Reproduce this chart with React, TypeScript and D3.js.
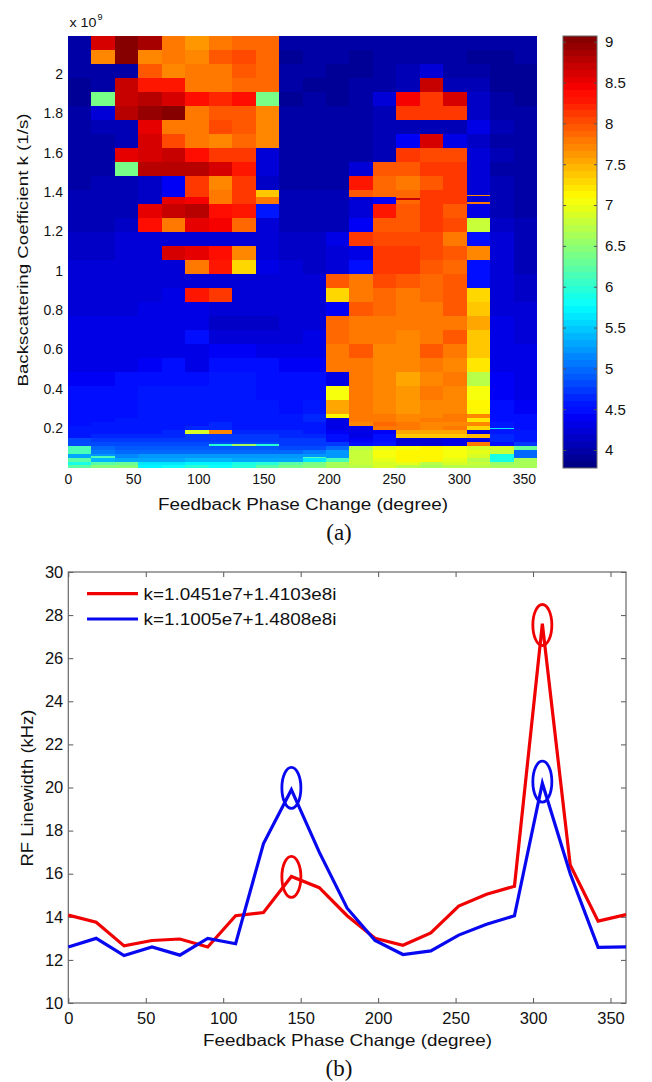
import * as d3 from "d3";
import { useEffect, useRef } from "react";

// heat map: 20 phase columns, values are log10 of the RF linewidth
const phaseEdges = d3.range(0, 361, 18);

// upper rows, top to bottom, each kRowStep tall (k in units of 1e9)
const kTop = 2.192;
const kRowStep = 0.07107;
const coarseGrid = [
  [3.95, 8.6, 9.0, 8.9, 7.78, 7.64, 7.82, 7.88, 7.88, 3.95, 4.0, 3.95, 3.95, 3.95, 3.95, 3.95, 3.95, 3.95, 3.95, 4.0],
  [3.95, 7.74, 9.0, 7.7, 7.82, 7.74, 7.93, 8.03, 7.88, 3.9, 3.95, 3.95, 3.9, 3.95, 3.95, 4.0, 3.95, 3.9, 3.9, 3.95],
  [3.95, 4.0, 4.0, 7.93, 7.7, 7.82, 7.82, 7.93, 7.88, 3.95, 3.95, 3.9, 3.9, 3.95, 4.05, 4.2, 4.0, 3.95, 3.9, 3.9],
  [3.9, 3.95, 8.7, 8.25, 8.3, 7.78, 7.82, 7.88, 7.88, 3.95, 3.9, 3.9, 3.95, 3.95, 4.1, 8.7, 4.1, 4.05, 3.9, 3.9],
  [3.9, 6.4, 8.7, 8.75, 8.6, 8.35, 8.18, 8.35, 6.4, 3.9, 3.95, 3.9, 3.95, 4.2, 8.45, 8.15, 8.6, 4.15, 3.95, 3.9],
  [3.95, 4.2, 8.75, 8.95, 9.0, 7.78, 7.93, 7.98, 7.74, 4.0, 3.95, 3.95, 3.95, 4.05, 8.08, 8.08, 8.15, 4.15, 4.0, 3.95],
  [4.0, 4.05, 4.05, 8.55, 7.78, 7.78, 8.03, 7.98, 7.7, 4.0, 4.0, 4.0, 3.95, 4.05, 4.1, 4.1, 4.1, 4.3, 4.05, 3.95],
  [4.0, 4.0, 4.05, 8.65, 8.03, 7.78, 7.74, 7.88, 7.7, 3.95, 3.95, 3.95, 3.95, 4.05, 4.4, 8.65, 4.3, 4.15, 4.0, 3.95],
  [4.0, 4.0, 8.55, 8.6, 8.7, 8.4, 8.15, 8.08, 4.2, 3.95, 3.95, 3.95, 4.0, 4.1, 8.12, 8.03, 8.03, 4.2, 4.05, 3.95],
  [4.0, 4.0, 6.4, 8.8, 8.75, 8.8, 8.65, 8.3, 4.2, 4.0, 4.0, 3.95, 4.2, 7.93, 7.98, 8.08, 8.12, 4.2, 4.0, 3.95],
  [4.0, 4.05, 4.1, 4.15, 4.4, 8.08, 7.7, 8.12, 4.15, 4.0, 4.0, 4.0, 8.3, 7.88, 7.82, 7.98, 8.08, 4.25, 4.05, 4.0],
  [4.05, 4.05, 4.1, 4.15, 8.5, 8.45, 7.82, 8.08, 7.78, 4.05, 4.1, 4.1, 4.2, 4.4, 7.88, 8.12, 8.08, 4.2, 4.05, 4.0],
  [4.05, 4.05, 4.05, 8.55, 8.7, 8.75, 8.35, 8.3, 4.6, 4.1, 4.05, 4.05, 4.2, 8.3, 7.93, 8.15, 7.98, 4.35, 4.05, 4.0],
  [4.1, 4.1, 4.15, 8.35, 7.78, 8.55, 8.45, 7.88, 4.2, 4.1, 4.1, 4.1, 4.4, 7.98, 7.98, 8.15, 8.03, 6.8, 4.15, 4.05],
  [4.15, 4.15, 4.2, 4.2, 4.2, 4.25, 4.2, 4.2, 4.2, 4.15, 4.15, 4.35, 8.08, 8.03, 8.03, 8.03, 7.82, 4.45, 4.2, 4.1],
  [4.15, 4.15, 4.2, 4.2, 8.6, 8.5, 8.35, 7.74, 4.2, 4.15, 4.15, 4.2, 4.3, 8.12, 8.08, 8.03, 7.93, 7.7, 4.2, 4.1],
  [4.2, 4.2, 4.2, 4.25, 4.25, 7.78, 8.3, 7.3, 4.3, 4.2, 4.15, 4.2, 4.45, 8.08, 8.08, 7.93, 7.88, 4.45, 4.2, 4.1],
  [4.2, 4.2, 4.2, 4.25, 4.25, 4.25, 4.2, 4.25, 4.2, 4.2, 4.2, 7.93, 7.82, 8.03, 7.98, 7.88, 7.93, 4.5, 4.25, 4.15],
  [4.25, 4.25, 4.25, 4.25, 4.3, 8.25, 8.12, 4.25, 4.25, 4.2, 4.2, 7.3, 7.82, 7.88, 7.78, 7.88, 7.93, 7.3, 4.25, 4.15],
  [4.25, 4.25, 4.25, 4.3, 4.3, 4.3, 4.2, 4.2, 4.2, 4.2, 4.2, 4.4, 7.93, 7.88, 7.78, 7.78, 7.93, 7.4, 4.25, 4.2],
  [4.3, 4.3, 4.3, 4.3, 4.3, 4.35, 4.15, 4.15, 4.15, 4.2, 4.25, 7.88, 7.78, 7.78, 7.78, 7.78, 7.82, 7.5, 4.3, 4.2],
  [4.3, 4.3, 4.3, 4.3, 4.35, 4.5, 4.25, 4.25, 4.25, 4.25, 4.3, 7.88, 7.78, 7.78, 7.7, 7.78, 7.93, 7.4, 4.35, 4.25],
  [4.35, 4.35, 4.35, 4.35, 4.35, 4.35, 4.4, 4.4, 4.3, 4.3, 4.35, 7.78, 7.93, 7.7, 7.7, 7.93, 7.78, 7.4, 4.35, 4.3],
  [4.35, 4.35, 4.35, 4.4, 4.45, 4.35, 4.5, 4.5, 4.45, 4.4, 4.4, 7.78, 7.78, 7.7, 7.7, 7.78, 7.7, 7.25, 4.35, 4.3],
  [4.4, 4.4, 4.45, 4.5, 4.5, 4.5, 4.55, 4.55, 4.5, 4.45, 4.45, 4.35, 7.78, 7.7, 7.55, 7.7, 7.78, 6.75, 4.4, 4.35],
  [4.45, 4.45, 4.5, 4.55, 4.55, 4.55, 4.55, 4.55, 4.5, 4.5, 4.5, 7.05, 7.78, 7.7, 7.64, 7.78, 7.7, 7.05, 4.4, 4.35],
  [4.5, 4.5, 4.5, 4.55, 4.55, 4.6, 4.6, 4.55, 4.55, 4.5, 4.6, 7.55, 7.78, 7.7, 7.64, 7.74, 7.74, 7.15, 4.45, 4.4],
];

// lower rows are thinner, fineEdges has one entry more than fineGrid
const fineEdges = [0.272, 0.251, 0.231, 0.211, 0.19, 0.17, 0.15, 0.129, 0.109, 0.089, 0.069, 0.048, 0.028, 0.013, 0];
const fineGrid = [
  [4.5, 4.5, 4.5, 4.55, 4.55, 4.6, 4.6, 4.55, 4.55, 4.55, 4.65, 7.15, 7.78, 7.78, 7.7, 7.74, 7.78, 7.7, 4.5, 4.45],
  [4.5, 4.5, 4.55, 4.55, 4.55, 4.6, 4.6, 4.6, 4.55, 4.55, 4.65, 4.35, 7.82, 7.82, 7.74, 7.78, 7.78, 7.2, 4.5, 4.45],
  [4.5, 4.55, 4.55, 4.55, 4.6, 4.6, 4.65, 4.6, 4.55, 4.6, 4.6, 4.35, 7.7, 7.88, 7.78, 7.74, 7.7, 7.7, 4.6, 4.5],
  [4.55, 4.55, 4.55, 4.6, 4.6, 4.65, 4.65, 4.6, 4.6, 4.6, 4.6, 4.35, 4.3, 7.82, 7.78, 7.7, 7.78, 7.3, 4.6, 4.5],
  [4.6, 4.6, 4.6, 4.6, 4.65, 6.9, 7.7, 4.65, 4.65, 4.65, 4.6, 4.4, 4.35, 4.4, 7.58, 7.58, 7.58, 4.3, 4.6, 4.55],
  [4.6, 4.65, 4.65, 4.65, 4.65, 4.7, 4.7, 4.7, 4.7, 4.65, 4.65, 4.45, 4.35, 4.45, 7.4, 7.35, 7.35, 7.45, 4.65, 4.6],
  [4.8, 4.7, 4.7, 4.7, 4.7, 4.75, 4.75, 4.75, 4.75, 4.7, 4.7, 4.5, 4.4, 4.5, 4.2, 4.2, 4.3, 4.3, 4.65, 4.6],
  [4.85, 4.8, 4.8, 4.8, 4.8, 4.8, 4.8, 4.8, 4.8, 4.75, 4.75, 4.7, 4.5, 4.6, 4.2, 4.2, 4.3, 7.78, 4.45, 4.7],
  [6.1, 4.95, 4.9, 4.9, 4.9, 4.9, 4.9, 4.9, 4.9, 4.85, 4.85, 5.0, 6.75, 6.95, 7.05, 7.1, 7.05, 6.85, 6.85, 6.3],
  [6.1, 5.05, 5.0, 5.0, 5.0, 5.0, 5.0, 5.0, 5.0, 5.0, 5.05, 5.2, 6.8, 7.05, 7.1, 7.1, 7.05, 6.95, 6.8, 5.0],
  [5.3, 5.2, 5.15, 5.2, 5.2, 5.2, 5.2, 5.2, 5.2, 5.2, 5.2, 5.25, 6.8, 7.05, 7.1, 7.1, 7.05, 6.9, 5.9, 5.0],
  [6.2, 5.4, 5.3, 5.35, 5.35, 5.4, 5.4, 5.35, 5.35, 5.3, 5.6, 6.1, 6.8, 6.95, 7.1, 7.1, 7.0, 6.75, 5.9, 6.6],
  [5.9, 6.2, 6.3, 5.6, 5.6, 5.7, 5.7, 5.85, 6.0, 6.2, 6.4, 6.65, 6.8, 6.9, 6.95, 6.75, 6.85, 6.8, 6.55, 6.6],
  [6.2, 6.5, 6.5, 5.7, 5.8, 6.0, 5.8, 6.0, 6.2, 6.4, 6.5, 6.65, 6.75, 6.85, 6.75, 6.65, 6.75, 6.75, 6.6, 6.6],
];

// narrow bands inside a cell: column, k low, k high, value
const thinBands = [
  [4, 1.373, 1.409, 4.4],
  [5, 1.373, 1.409, 8.08],
  [8, 1.373, 1.409, 7.4],
  [12, 1.373, 1.409, 7.98],
  [13, 1.373, 1.409, 7.88],
  [14, 1.36, 1.368, 8.7],
  [17, 1.378, 1.386, 7.7],
  [17, 1.338, 1.348, 7.8],
  [6, 0.109, 0.117, 6.0],
  [7, 0.109, 0.117, 6.6],
  [8, 0.109, 0.117, 6.0],
  [1, 0.048, 0.056, 6.1],
  [10, 0.046, 0.053, 6.1],
  [18, 0.195, 0.203, 5.6],
];

const kTicks = [0.2, 0.4, 0.6, 0.8, 1, 1.2, 1.4, 1.6, 1.8, 2];
const phaseTicks = [0, 50, 100, 150, 200, 250, 300, 350];
const colorTicks = [4, 4.5, 5, 5.5, 6, 6.5, 7, 7.5, 8, 8.5, 9];

// line chart
const linePhase = [0, 18, 36, 54, 72, 90, 108, 126, 144, 162, 180, 198, 216, 234, 252, 270, 288, 306, 324, 342, 360];
const redWidth = [14.08, 13.75, 12.65, 12.9, 12.97, 12.6, 14.05, 14.2, 15.87, 15.35, 14.05, 13.0, 12.68, 13.25, 14.5, 15.05, 15.42, 27.6, 16.4, 13.8, 14.1];
const blueWidth = [12.6, 13.0, 12.2, 12.6, 12.22, 13.0, 12.75, 17.4, 19.9, 17.0, 14.4, 12.9, 12.25, 12.42, 13.15, 13.65, 14.05, 20.2, 16.0, 12.58, 12.6];
const widthTicks = [10, 12, 14, 16, 18, 20, 22, 24, 26, 28, 30];
const redMarks = [[144, 15.85], [306, 27.54]];
const blueMarks = [[144, 19.98], [306, 20.27]];
const legendNames = ["k=1.0451e7+1.4103e8i", "k=1.1005e7+1.4808e8i"];

const SANS = "'Liberation Sans', Arial, sans-serif";
const SERIF = "'Liberation Serif', 'Times New Roman', serif";
const colorMin = 3.78;
const colorMax = 9.07;

// matlab jet with its 64 steps
const jet = (v: number) => {
  const clamp = (a: number) => Math.max(0, Math.min(1, a));
  const step = Math.min(63, Math.floor(((v - colorMin) / (colorMax - colorMin)) * 64));
  const t = (step + 0.5) / 64;
  const r = clamp(1.5 - Math.abs(4 * t - 3));
  const g = clamp(1.5 - Math.abs(4 * t - 2));
  const b = clamp(1.5 - Math.abs(4 * t - 1));
  return d3.rgb(r * 255, g * 255, b * 255).formatHex();
};

const addLabel = (svg: any, txt: string, x: number, y: number, size: number, len: number, rotate = false, family = SANS) => {
  const t = svg.append("text")
    .attr("text-anchor", "middle")
    .attr("font-family", family)
    .attr("font-size", size)
    .attr("fill", "#111")
    .text(txt);
  if (len) t.attr("textLength", len).attr("lengthAdjust", "spacingAndGlyphs");
  if (rotate) t.attr("transform", `translate(${x},${y}) rotate(-90)`);
  else t.attr("x", x).attr("y", y);
};

const styleAxis = (g: any, size: number) => {
  g.select(".domain").remove();
  g.selectAll("line").attr("stroke", "#555");
  g.selectAll("text").attr("font-family", SANS).attr("font-size", size).attr("fill", "#111");
};

const App = () => {
  const chartRef = useRef<SVGSVGElement>(null);

  useEffect(() => {
    const svg = d3.select(chartRef.current);
    svg.selectAll("*").remove();

    svg.append("defs").append("filter").attr("id", "soft")
      .append("feGaussianBlur").attr("stdDeviation", 0.5);

    // (a) heat map
    const xA = d3.scaleLinear().domain([0, 360]).range([68, 537]);
    const yA = d3.scaleLinear().domain([0, kTop]).range([467.5, 36]);

    const heat = svg.append("g").attr("filter", "url(#soft)").attr("shape-rendering", "crispEdges");
    const addCell = (col: number, kLow: number, kHigh: number, v: number) => {
      heat.append("rect")
        .attr("x", xA(phaseEdges[col]))
        .attr("width", xA(phaseEdges[col + 1]) - xA(phaseEdges[col]))
        .attr("y", yA(kHigh))
        .attr("height", yA(kLow) - yA(kHigh))
        .attr("fill", jet(v));
    };
    coarseGrid.forEach((row, i) => {
      row.forEach((v, c) => addCell(c, kTop - (i + 1) * kRowStep, kTop - i * kRowStep, v));
    });
    fineGrid.forEach((row, i) => {
      row.forEach((v, c) => addCell(c, fineEdges[i + 1], fineEdges[i], v));
    });
    thinBands.forEach(([c, lo, hi, v]) => addCell(c, lo, hi, v));

    const axLeftA = svg.append("g").attr("transform", "translate(68,0)")
      .call(d3.axisLeft(yA).tickValues(kTicks).tickSize(0).tickPadding(5).tickFormat(d3.format("~g")));
    styleAxis(axLeftA, 14);
    const axBottomA = svg.append("g").attr("transform", "translate(0,470)")
      .call(d3.axisBottom(xA).tickValues(phaseTicks).tickSize(0).tickPadding(4));
    styleAxis(axBottomA, 14);

    addLabel(svg, "x 10", 83, 27, 13, 27);
    addLabel(svg, "9", 100, 20, 9, 0);
    addLabel(svg, "Backscattering Coefficient k (1/s)", 28, 250, 15.5, 273, true);
    addLabel(svg, "Feedback Phase Change (degree)", 303, 510, 16, 290);
    addLabel(svg, "(a)", 339, 540, 23, 0, false, SERIF);

    // colorbar
    const yC = d3.scaleLinear().domain([colorMin, colorMax]).range([468, 36]);
    const barLevels = d3.range(64).map((i) => colorMin + ((i + 0.5) / 64) * (colorMax - colorMin));
    const barStep = (colorMax - colorMin) / 64;
    svg.append("g").attr("filter", "url(#soft)").attr("shape-rendering", "crispEdges")
      .selectAll("rect").data(barLevels).join("rect")
      .attr("x", 563)
      .attr("width", 34)
      .attr("y", (d) => yC(d + barStep / 2))
      .attr("height", (d) => yC(d - barStep / 2) - yC(d + barStep / 2))
      .attr("fill", (d) => jet(d));
    svg.append("rect").attr("x", 563).attr("y", 36).attr("width", 34).attr("height", 432)
      .attr("fill", "none").attr("stroke", "#666");
    const axRightC = svg.append("g").attr("transform", "translate(597,0)")
      .call(d3.axisRight(yC).tickValues(colorTicks).tickSize(-3).tickPadding(8).tickFormat(d3.format("~g")));
    styleAxis(axRightC, 15);
    const axLeftC = svg.append("g").attr("transform", "translate(563,0)")
      .call(d3.axisLeft(yC).tickValues(colorTicks).tickSize(-3).tickFormat(() => ""));
    styleAxis(axLeftC, 15);

    // (b) line chart
    const xB = d3.scaleLinear().domain([0, 360]).range([68.3, 626]);
    const yB = d3.scaleLinear().domain([10, 30]).range([1003, 572]);

    const axes: [any, number, number, number][] = [
      [d3.axisBottom(xB).tickValues(phaseTicks).tickSize(-5).tickPadding(9), 0, 1003, 16.5],
      [d3.axisTop(xB).tickValues(phaseTicks).tickSize(-5).tickFormat(() => ""), 0, 572, 16.5],
      [d3.axisLeft(yB).tickValues(widthTicks).tickSize(-5).tickPadding(5), 68.3, 0, 16.5],
      [d3.axisRight(yB).tickValues(widthTicks).tickSize(-5).tickFormat(() => ""), 626, 0, 16.5],
    ];
    axes.forEach(([axis, tx, ty, size]) => {
      const g = svg.append("g").attr("transform", `translate(${tx},${ty})`).call(axis);
      styleAxis(g, size);
    });
    svg.append("rect").attr("x", 68.3).attr("y", 572).attr("width", 557.7).attr("height", 431)
      .attr("fill", "none").attr("stroke", "#666").attr("stroke-width", 1.2);

    const line = d3.line<number>()
      .x((_, i) => xB(linePhase[i]))
      .y((d) => yB(d));
    [[redWidth, "#f00000"], [blueWidth, "#0808f0"]].forEach(([vals, c]) => {
      svg.append("path")
        .attr("d", line(vals as number[]))
        .attr("fill", "none")
        .attr("stroke", c as string)
        .attr("stroke-width", 3.2)
        .attr("stroke-linejoin", "miter");
    });
    [[redMarks, "#f00000"], [blueMarks, "#0808f0"]].forEach(([marks, c]) => {
      (marks as number[][]).forEach(([p, w]) => {
        svg.append("ellipse")
          .attr("cx", xB(p))
          .attr("cy", yB(w))
          .attr("rx", 9.5)
          .attr("ry", 20.5)
          .attr("fill", "none")
          .attr("stroke", c as string)
          .attr("stroke-width", 2.8);
      });
    });

    // legend
    legendNames.forEach((name, i) => {
      const ly = i === 0 ? 593.7 : 619;
      svg.append("line").attr("x1", 87).attr("x2", 138).attr("y1", ly).attr("y2", ly)
        .attr("stroke", i === 0 ? "#f00000" : "#0808f0").attr("stroke-width", 3.2);
      addLabel(svg, name, 240, ly + 6, 16, 193);
    });

    addLabel(svg, "RF Linewidth (kHz)", 33, 788, 16, 157, true);
    addLabel(svg, "Feedback Phase Change (degree)", 347.5, 1046, 16.5, 289);
    addLabel(svg, "(b)", 339, 1076, 23, 0, false, SERIF);
  }, []);

  return (
    <svg
      ref={chartRef}
      width={652}
      height={1082}
      style={{ position: "absolute", left: 0, top: 0, background: "#fff" }}
    />
  );
};

export default App;
